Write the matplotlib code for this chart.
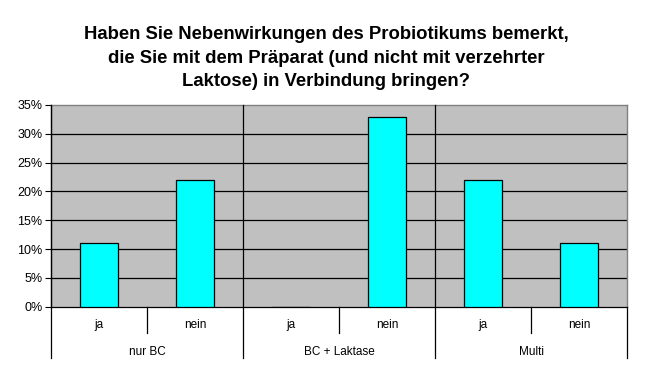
import numpy as np
import matplotlib.pyplot as plt
import matplotlib.transforms as mtransforms
from matplotlib.ticker import PercentFormatter

plt.rcParams['font.family'] = ['Liberation Sans', 'DejaVu Sans']

# data
groups = ["nur BC", "BC + Laktase", "Multi"]
answers = ["ja", "nein"]
values = [11, 22, 0, 33, 22, 11]
title = ("Haben Sie Nebenwirkungen des Probiotikums bemerkt,\n"
         "die Sie mit dem Präparat (und nicht mit verzehrter\n"
         "Laktose) in Verbindung bringen?")

fig = plt.figure(figsize=(6.52, 3.77), dpi=100)
ax = fig.add_axes([0.0782, 0.1865, 0.8835, 0.535])
ax.set_facecolor("#C0C0C0")

x = np.arange(len(values))
ax.bar(x, values, width=0.4, color="#00FFFF", edgecolor="black", linewidth=0.9, zorder=3)

ax.set_xlim(-0.5, len(values) - 0.5)
ax.set_ylim(0, 35)
ax.set_yticks(np.arange(0, 36, 5))
ax.yaxis.set_major_formatter(PercentFormatter(decimals=0))
ax.tick_params(axis="y", length=4, width=0.8, labelsize=9, pad=2, color="black")
ax.set_xticks([])

for yv in range(5, 35, 5):
    ax.axhline(yv, color="black", linewidth=0.9, zorder=1)

for side in ["top", "right"]:
    ax.spines[side].set_color("#808080")
    ax.spines[side].set_linewidth(1)
ax.spines["left"].set_color("black")
ax.spines["bottom"].set_color("black")
ax.spines["left"].set_linewidth(0.9)
ax.spines["bottom"].set_linewidth(0.9)

# hierarchical category axis
trans = mtransforms.blended_transform_factory(ax.transData, ax.transAxes)
n_ans = len(answers)
for gi, g in enumerate(groups):
    left = gi * n_ans - 0.5
    ax.plot([left, left], [1, -0.254], color="black", linewidth=0.9,
            transform=trans, clip_on=False, zorder=4)
    ax.text(left + n_ans / 2, -0.224, g, transform=trans, ha="center", va="center", fontsize=8.5)
    for ai, a in enumerate(answers):
        pos = gi * n_ans + ai
        ax.text(pos, -0.091, a, transform=trans, ha="center", va="center", fontsize=8.5)
        if ai > 0:
            ax.plot([pos - 0.5, pos - 0.5], [0, -0.130], color="black", linewidth=0.9,
                    transform=trans, clip_on=False)
right = len(values) - 0.5
ax.plot([right, right], [0, -0.254], color="black", linewidth=0.9,
        transform=trans, clip_on=False)

fig.text(0.5, 0.846, title, ha="center", va="center", fontsize=13.3, fontweight="bold",
         linespacing=1.5)

fig.savefig("out.png", dpi=100)
